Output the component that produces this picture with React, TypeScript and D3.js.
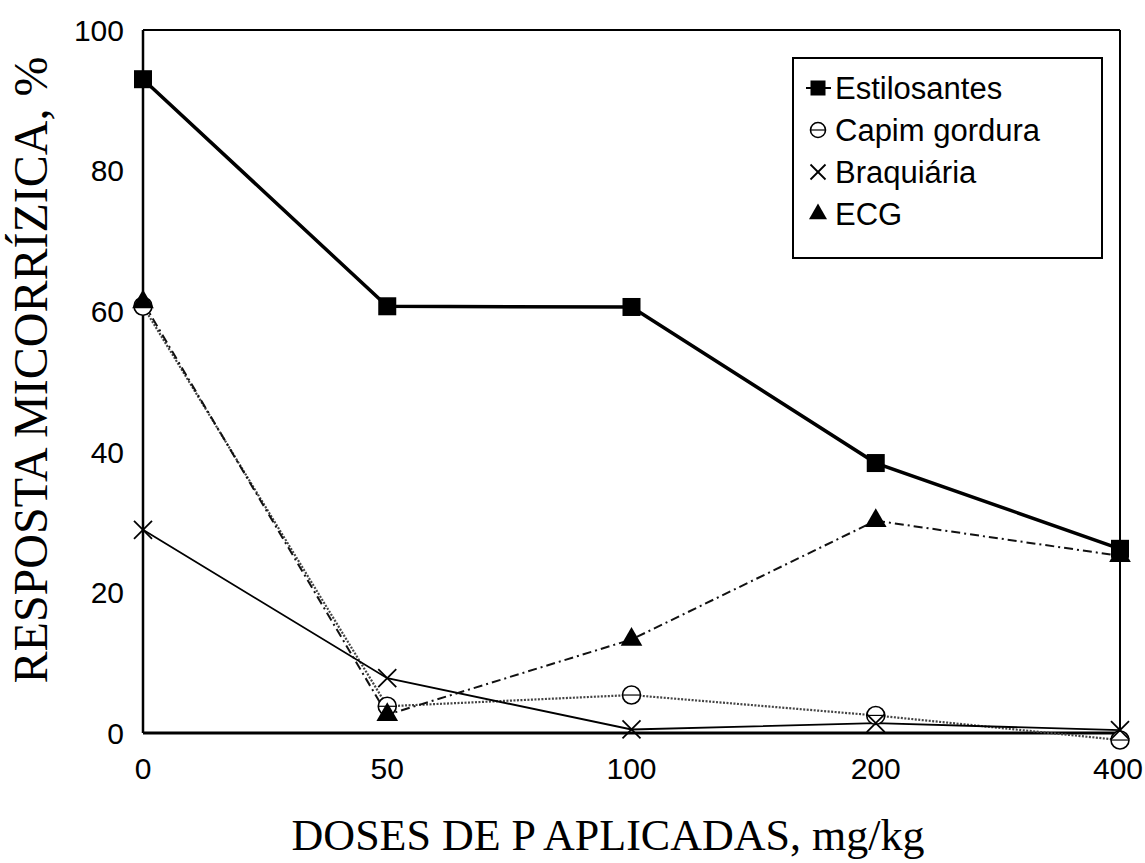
import React from "react";
import * as d3 from "d3";

const doses = ["0", "50", "100", "200", "400"];
const yTicks = [0, 20, 40, 60, 80, 100];
const estilosantes = [93, 60.7, 60.6, 38.4, 26.2];
const capimGordura = [60.7, 3.8, 5.4, 2.5, -1.0];
const braquiaria = [28.9, 7.8, 0.5, 1.4, 0.4];
const ecg = [61.3, 2.6, 13.3, 30.2, 25.2];

const seriesNames = ["Estilosantes", "Capim gordura", "Braquiária", "ECG"];

const W = 1145, H = 863;
const L = 143, R = 1120, T = 30, B = 733;

const x = d3.scalePoint<string>().domain(doses).range([L, R]);
const y = d3.scaleLinear().domain([0, 100]).range([B, T]);

function Marker({ kind, cx, cy, s = 9 }: { kind: string; cx: number; cy: number; s?: number }) {
  if (kind === "square")
    return <rect x={cx - s} y={cy - s} width={2 * s} height={2 * s} fill="#000" />;
  if (kind === "circle")
    return (
      <g>
        <circle cx={cx} cy={cy} r={s} fill="#fff" stroke="#000" strokeWidth={1.6} />
        <line x1={cx - s} x2={cx + s} y1={cy} y2={cy} stroke="#000" strokeWidth={1.2} />
      </g>
    );
  if (kind === "x")
    return (
      <g stroke="#000" strokeWidth={1.8}>
        <line x1={cx - s} y1={cy - s} x2={cx + s} y2={cy + s} />
        <line x1={cx - s} y1={cy + s} x2={cx + s} y2={cy - s} />
      </g>
    );
  const tri = d3.symbol().type(d3.symbolTriangle).size(2.5 * s * s)();
  return <path d={tri || ""} transform={`translate(${cx},${cy})`} fill="#000" />;
}

const series = [
  { name: seriesNames[0], values: estilosantes, marker: "square", width: 3.5, dash: "", color: "#000" },
  { name: seriesNames[1], values: capimGordura, marker: "circle", width: 2.2, dash: "2,1.5", color: "#444" },
  { name: seriesNames[2], values: braquiaria, marker: "x", width: 1.8, dash: "", color: "#000" },
  { name: seriesNames[3], values: ecg, marker: "triangle", width: 2, dash: "9,4,2,4", color: "#111" },
];

export default function App() {
  const line = d3
    .line<number>()
    .x((_, i) => x(doses[i]) as number)
    .y((v) => y(v));
  const sans = "'Liberation Sans', Arial, sans-serif";
  const serif = "'Liberation Serif', 'Times New Roman', serif";
  return (
    <svg width={W} height={H} style={{ position: "absolute", left: 0, top: 0, background: "#fff" }}>
      <rect x={0} y={0} width={W} height={H} fill="#fff" />
      {/* frame */}
      <line x1={L} x2={R} y1={T} y2={T} stroke="#000" strokeWidth={2} />
      <line x1={R} x2={R} y1={T} y2={B} stroke="#000" strokeWidth={2} />
      <line x1={L} x2={L} y1={T} y2={B} stroke="#000" strokeWidth={2.5} />
      <line x1={L} x2={R} y1={B} y2={B} stroke="#000" strokeWidth={3} />
      {/* y ticks */}
      {yTicks.map((t) => (
        <text key={t} x={124} y={y(t)} dy="0.36em" textAnchor="end" fontFamily={sans} fontSize={30}>
          {t}
        </text>
      ))}
      {/* x ticks */}
      {doses.map((d) => (
        <text key={d} x={Math.min(x(d) as number, W - 27)} y={779} textAnchor="middle" fontFamily={sans} fontSize={30}>
          {d}
        </text>
      ))}
      {/* series */}
      {series.map((s) => (
        <path
          key={s.name}
          d={line(s.values) || ""}
          fill="none"
          stroke={s.color}
          strokeWidth={s.width}
          strokeDasharray={s.dash}
        />
      ))}
      {series.map((s) =>
        s.values.map((v, i) => (
          <Marker key={s.name + i} kind={s.marker} cx={x(doses[i]) as number} cy={y(v)} />
        ))
      )}
      {/* legend */}
      <rect x={793} y={58} width={309} height={200} fill="#fff" stroke="#000" strokeWidth={2} />
      {series.map((s, i) => {
        const cy = 88 + i * 42;
        return (
          <g key={s.name}>
            {s.marker === "square" && (
              <line x1={806} x2={831} y1={cy} y2={cy} stroke="#000" strokeWidth={2} />
            )}
            <Marker kind={s.marker} cx={818} cy={cy} s={7.5} />
            <text x={835} y={cy} dy="0.36em" fontFamily={sans} fontSize={31}>
              {s.name}
            </text>
          </g>
        );
      })}
      {/* axis titles */}
      <text x={608} y={850} textAnchor="middle" fontFamily={serif} fontSize={44}>
        DOSES DE P APLICADAS, mg/kg
      </text>
      <text
        transform={`translate(47,370) rotate(-90)`}
        textAnchor="middle"
        fontFamily={serif}
        fontSize={48}
      >
        RESPOSTA MICORRÍZICA, %
      </text>
    </svg>
  );
}
